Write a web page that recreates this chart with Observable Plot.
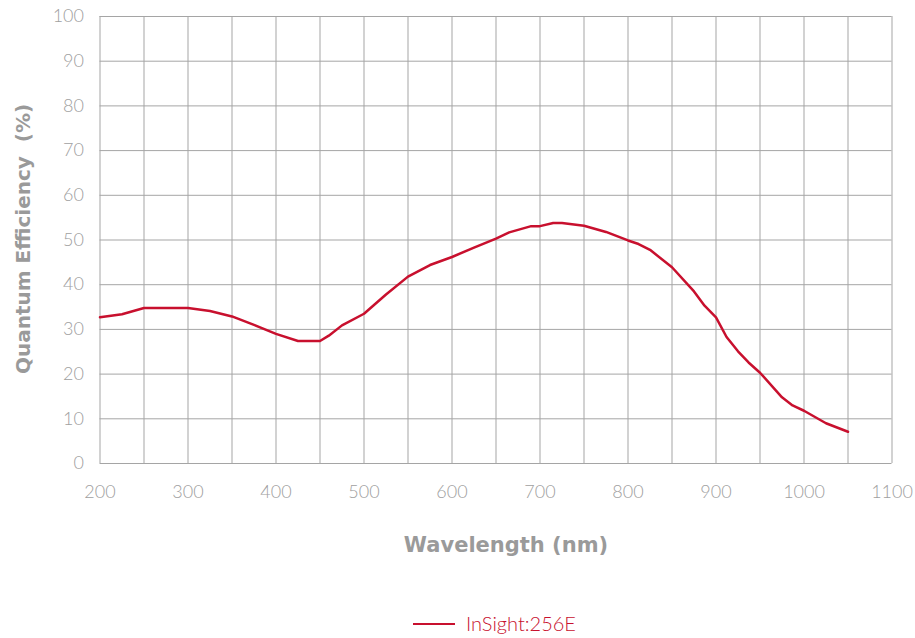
<!DOCTYPE html>
<html>
<head>
<meta charset="utf-8">
<script src="https://cdn.jsdelivr.net/npm/d3@7"></script>
<script src="https://cdn.jsdelivr.net/npm/@observablehq/plot@0.6"></script>
<style>
  html, body { margin: 0; padding: 0; background: #fff; }
  body { width: 915px; height: 638px; overflow: hidden; font-family: "Lato", sans-serif; }
  #legend { position: relative; height: 63px; }
  #legend .sw { position: absolute; left: 413px; top: 48px; width: 42px; height: 0; border-top: 2.5px solid #c8102e; }
  #legend .lb { position: absolute; left: 466px; top: 36px; font-size: 20px; font-weight: 300; color: #c8102e; }
</style>
</head>
<body>
<div id="chart"></div>
<div id="legend"><div class="sw"></div><div class="lb" id="lbl"></div></div>
<script>
const seriesName = "InSight:256E";
const wavelength = [200, 225, 250, 275, 300, 325, 350, 375, 400, 425, 450, 460, 475, 500, 525, 550, 575, 600, 625, 650, 665, 690, 700, 715, 725, 750, 775, 800, 812, 825, 850, 875, 887, 900, 912, 925, 937, 950, 975, 987, 1000, 1025, 1050];
const qe = [32.7, 33.4, 34.8, 34.8, 34.8, 34.1, 32.9, 31.0, 29.0, 27.4, 27.4, 28.6, 30.9, 33.5, 37.8, 41.8, 44.4, 46.2, 48.3, 50.3, 51.7, 53.1, 53.1, 53.8, 53.8, 53.2, 51.8, 49.9, 49.1, 47.8, 43.9, 38.5, 35.3, 32.7, 28.3, 25.1, 22.6, 20.3, 14.8, 13.0, 11.8, 9.0, 7.1];
const xTicks = [200, 300, 400, 500, 600, 700, 800, 900, 1000, 1100];
const xGrid = [200, 250, 300, 350, 400, 450, 500, 550, 600, 650, 700, 750, 800, 850, 900, 950, 1000, 1050, 1100];
const yTicks = [0, 10, 20, 30, 40, 50, 60, 70, 80, 90, 100];
const xTitle = "Wavelength (nm)";
const yTitle = "Quantum Efficiency  (%)";

const data = wavelength.map((w, i) => ({w, q: qe[i]}));
const gridColor = "#a5a5a5";
const textColor = "#a0a0a0";
const titleFont = "'DejaVu Sans', sans-serif";

const chart = Plot.plot({
  width: 915,
  height: 575,
  marginTop: 16,
  marginLeft: 99.5,
  marginRight: 23.5,
  marginBottom: 112,
  style: {fontFamily: "Lato, sans-serif", fontSize: "18px", fontWeight: 300, color: textColor, background: "#fff"},
  x: {domain: [200, 1100]},
  y: {domain: [0, 100]},
  marks: [
    Plot.ruleX(xGrid, {stroke: gridColor, strokeWidth: 1, strokeOpacity: 1}),
    Plot.ruleY(yTicks, {stroke: gridColor, strokeWidth: 1, strokeOpacity: 1}),
    Plot.axisX(xTicks, {tickSize: 0, tickPadding: 22, label: null, fontSize: 18, fill: textColor, tickFormat: d => String(d)}),
    Plot.axisY(yTicks, {tickSize: 0, tickPadding: 16, label: null, fontSize: 18, fill: textColor, tickFormat: d => String(d)}),
    Plot.line(data, {x: "w", y: "q", stroke: "#c8102e", strokeWidth: 2.5, curve: "linear"}),
    Plot.text([xTitle], {text: d => d, frameAnchor: "bottom", dx: 10, dy: 82, fontSize: 21, fontWeight: "bold", fontFamily: titleFont, fill: "#9a9a9a", lineAnchor: "middle", textAnchor: "middle"}),
    Plot.text([yTitle], {text: d => d, frameAnchor: "left", dx: -76, dy: -1, rotate: -90, fontSize: 20, fontWeight: "bold", fontFamily: titleFont, fill: "#9a9a9a", lineAnchor: "middle", textAnchor: "middle"})
  ]
});
document.getElementById("chart").appendChild(chart);
document.getElementById("lbl").textContent = seriesName;
</script>
</body>
</html>
